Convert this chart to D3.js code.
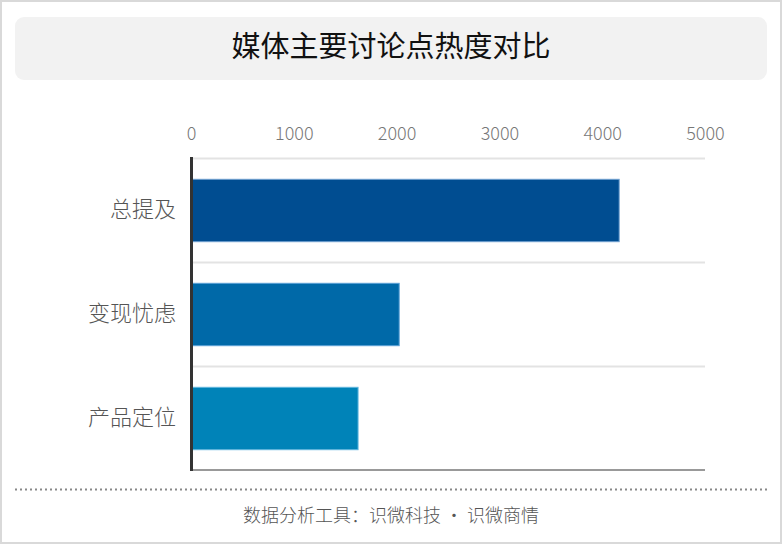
<!DOCTYPE html>
<html><head><meta charset="utf-8">
<script src="https://cdn.jsdelivr.net/npm/d3@7"></script>
<style>
html,body{margin:0;padding:0;background:#fff;}
svg{display:block;font-family:"Noto Sans CJK SC","Noto Sans",sans-serif;}
</style></head>
<body>
<svg id="chart" width="782" height="544"></svg>
<script>
const title = "媒体主要讨论点热度对比";
const categories = ["总提及", "变现忧虑", "产品定位"];
const values = [4170, 2030, 1630];
const barColors = ["#004d91", "#0069a8", "#0083b8"];
const strokeColors = ["#6f9fd0", "#5aa0d6", "#62b6de"];
const tickValues = [0, 1000, 2000, 3000, 4000, 5000];
const footer = "数据分析工具：识微科技 • 识微商情";

const FONT = "\"Noto Sans CJK SC\",\"Noto Sans\",sans-serif";
const svg = d3.select("#chart");
const W = 782, H = 544;

// outer frame
svg.append("rect").attr("x", 1).attr("y", 1).attr("width", W - 2).attr("height", H - 2)
  .attr("fill", "#fff").attr("stroke", "#d9d9d9").attr("stroke-width", 2);

// title box
svg.append("rect").attr("x", 15).attr("y", 17).attr("width", 752).attr("height", 63)
  .attr("rx", 9).attr("fill", "#f2f2f2");
svg.append("text").attr("x", 391).attr("y", 57).attr("text-anchor", "middle")
  .attr("font-size", 29).attr("fill", "#111").text(title);

const x = d3.scaleLinear().domain([0, 5000]).range([191, 705]);
const y = d3.scaleBand().domain(categories).range([158, 470]).padding(0);

// separators / grid
const seps = categories.map(c => y(c));
svg.selectAll("line.sep").data(seps).enter().append("line")
  .attr("x1", 191).attr("x2", 705).attr("y1", d => d + 0.5).attr("y2", d => d + 0.5)
  .attr("stroke", "#e3e3e3").attr("stroke-width", 2);

// top tick labels
const axisTop = d3.axisTop(x).tickValues(tickValues).tickSize(0).tickPadding(0).tickFormat(d3.format("d"));
const gAxis = svg.append("g").attr("transform", "translate(0,140)").call(axisTop);
gAxis.select(".domain").remove();
gAxis.selectAll("text").attr("font-size", 18).attr("fill", "#777").attr("font-weight", 300)
  .attr("font-family", FONT);

// bars
const inner = 0.2;
svg.selectAll("rect.bar").data(values).enter().append("rect")
  .attr("class", "bar")
  .attr("x", x(0) + 1)
  .attr("y", (d, i) => y(categories[i]) + y.bandwidth() * inner + 0.5)
  .attr("width", d => x(d) - x(0) - 1.5)
  .attr("height", y.bandwidth() * (1 - 2 * inner))
  .attr("fill", (d, i) => barColors[i])
  .attr("stroke", (d, i) => strokeColors[i]).attr("stroke-width", 1);

// category labels
const axisLeft = d3.axisLeft(y).tickSize(0).tickPadding(15);
const gLeft = svg.append("g").attr("transform", "translate(191,0)").call(axisLeft);
gLeft.select(".domain").remove();
gLeft.selectAll("text").attr("font-size", 22).attr("fill", "#555").attr("font-weight", 300)
  .attr("font-family", FONT);

// bottom axis line
svg.append("line").attr("x1", 191).attr("x2", 705).attr("y1", 470).attr("y2", 470)
  .attr("stroke", "#999").attr("stroke-width", 2);
// left axis line
svg.append("line").attr("x1", 191.5).attr("x2", 191.5).attr("y1", 157).attr("y2", 471)
  .attr("stroke", "#333").attr("stroke-width", 3);

// dotted divider
svg.append("line").attr("x1", 15).attr("x2", 767).attr("y1", 489.5).attr("y2", 489.5)
  .attr("stroke", "#888").attr("stroke-width", 2).attr("stroke-dasharray", "2,3");

svg.append("text").attr("x", 391).attr("y", 522).attr("text-anchor", "middle")
  .attr("font-size", 18).attr("fill", "#555").attr("font-weight", 300).text(footer);
</script>
</body></html>
